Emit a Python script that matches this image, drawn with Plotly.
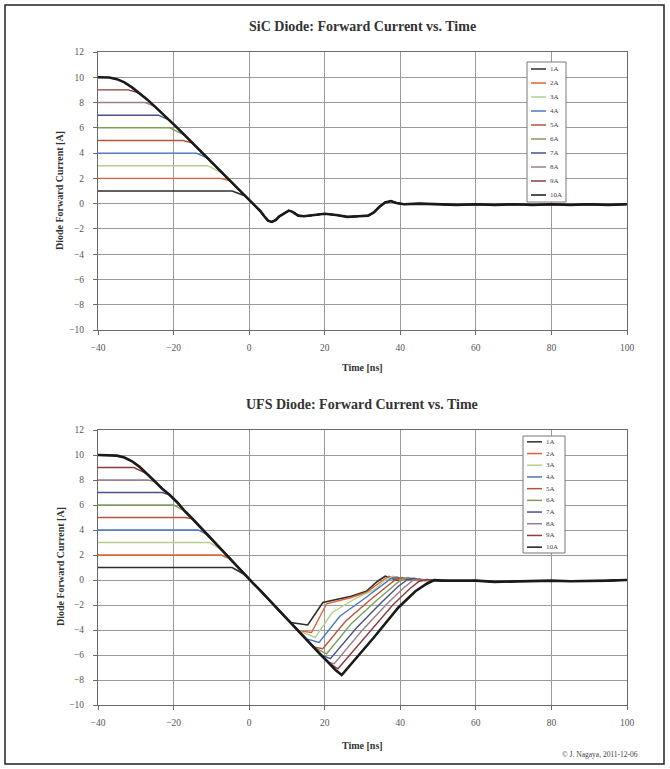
import plotly.graph_objects as go

# ---------------- data ----------------
series_names = ["1A", "2A", "3A", "4A", "5A", "6A", "7A", "8A", "9A", "10A"]
levels = [1, 2, 3, 4, 5, 6, 7, 8, 9, 10]
colors = ["#2e2e2e", "#e0622e", "#b3cf8f", "#4a76c0", "#b8543a",
          "#7f9e5a", "#48508e", "#9a7f86", "#8e3b3b", "#1a1a1a"]
widths = [1.6, 1.4, 1.4, 1.4, 1.4, 1.4, 1.4, 1.4, 1.4, 2.6]

x_ticks = [-40, -20, 0, 20, 40, 60, 80, 100]
y_ticks = [-10, -8, -6, -4, -2, 0, 2, 4, 6, 8, 10, 12]

# SiC diode: shared switching envelope (ns, A)
sic_env_t = [-40, -37, -35, -33, -31, -29, -27, -25, -23, -21, -19, -17, -15, -13, -11, -9, -7, -5, -3, -1,
             1, 3, 4, 5, 6, 7, 8, 9.5, 10.5, 11.5, 13, 14.5, 17, 20, 23, 26, 29, 31.5, 33, 34.5, 36, 37.5,
             39, 41, 45, 50, 55, 60, 65, 70, 75, 80, 85, 90, 95, 100]
sic_env_i = [10.0, 9.98, 9.85, 9.6, 9.2, 8.75, 8.25, 7.7, 7.15, 6.6, 6.0, 5.4, 4.8, 4.2, 3.6, 3.0, 2.4, 1.8, 1.2, 0.6,
             0.0, -0.6, -1.0, -1.35, -1.45, -1.3, -1.0, -0.75, -0.55, -0.65, -0.95, -1.0, -0.9, -0.8, -0.9, -1.05, -1.0, -0.95, -0.7, -0.25, 0.1, 0.2,
             0.05, -0.05, 0.0, -0.05, -0.1, -0.05, -0.1, -0.05, -0.1, -0.05, -0.1, -0.05, -0.1, -0.05]
sic_knee_t = [-4.5, -7.5, -11, -14, -17.5, -21, -24, -27.5, -32, -40]

# UFS diode: shared falling envelope
ufs_env_t = [-40, -37, -35, -33, -31, -29, -27, -25, -23, -21, -19, -17, -15, -13, -11, -9, -7, -5, -3, -1,
             1, 3, 5, 7, 9, 11, 13, 15, 17, 19, 21, 23, 25]
ufs_env_i = [10.0, 9.98, 9.95, 9.8, 9.5, 9.05, 8.5, 7.9, 7.3, 6.8, 6.2, 5.5, 4.9, 4.25, 3.6, 3.0, 2.35, 1.7, 1.05, 0.4,
             -0.25, -0.85, -1.5, -2.15, -2.8, -3.4, -4.05, -4.7, -5.35, -6.0, -6.6, -7.25, -7.9]
ufs_knee_t = [-4.5, -7.5, -10.5, -13.5, -17, -20, -23, -27, -30.5, -40]
ufs_peak_t = [15.5, 16.5, 17.5, 18.5, 19.5, 20.5, 21.5, 22.5, 23.5, 24.5]
ufs_peak_i = [-3.6, -4.2, -4.6, -5.0, -5.5, -5.9, -6.3, -6.7, -7.1, -7.6]
ufs_rec_t = [
    [19.5, 27, 31, 34, 36, 39],
    [20.5, 27, 31, 35, 37, 40],
    [22, 28, 33, 36, 38, 41],
    [24, 30, 34, 37.5, 39, 42],
    [25.5, 32, 36, 39, 40.5, 43],
    [27, 33.5, 38, 40.5, 42, 44.5],
    [28.5, 35, 39.5, 42, 43.5, 46],
    [30, 36.5, 41, 43.5, 45, 47.5],
    [31.5, 38, 42.5, 45, 47, 49],
    [33, 39.5, 44, 47, 49, 51],
]
ufs_rec_i = [
    [-1.8, -1.3, -0.9, -0.1, 0.3, 0.0],
    [-1.9, -1.4, -1.0, -0.1, 0.3, 0.0],
    [-2.6, -1.5, -0.8, 0.0, 0.3, 0.0],
    [-2.9, -1.6, -0.7, 0.1, 0.25, 0.0],
    [-3.3, -1.6, -0.6, 0.1, 0.2, 0.0],
    [-3.5, -1.7, -0.5, 0.1, 0.2, 0.0],
    [-3.8, -1.8, -0.5, 0.05, 0.15, 0.0],
    [-4.0, -1.9, -0.6, 0.0, 0.1, -0.05],
    [-4.3, -2.0, -0.7, -0.1, 0.05, -0.05],
    [-4.6, -2.2, -0.9, -0.3, 0.0, -0.05],
]
ufs_tail_t = [52, 55, 60, 65, 70, 75, 80, 85, 90, 95, 100]
ufs_tail_i = [-0.05, -0.1, -0.05, -0.15, -0.1, -0.1, -0.05, -0.1, -0.1, -0.05, 0.0]

# ---------------- figure ----------------
W, H = 670, 769
L, R, T, B = 98, 627, 52, 705          # overall plotting box (pixels)
TOP_Y0, TOP_Y1 = 52, 330
BOT_Y0, BOT_Y1 = 430, 705


def px(x):
    return (x - L) / (R - L)


def py(y):
    return (B - y) / (B - T)


FONT = "Liberation Serif, Times New Roman, serif"
fig = go.Figure()

for k in range(10):
    lv = levels[k]
    t = [-40, sic_knee_t[k]]
    i = [lv, lv]
    for tt, ii in zip(sic_env_t, sic_env_i):
        if tt > sic_knee_t[k] and ii < lv:
            t.append(tt)
            i.append(ii)
    fig.add_trace(go.Scatter(x=t, y=i, mode="lines", name=series_names[k],
                             line=dict(color=colors[k], width=widths[k]),
                             xaxis="x", yaxis="y", showlegend=False))

for k in range(10):
    lv = levels[k]
    t = [-40, ufs_knee_t[k]]
    i = [lv, lv]
    for tt, ii in zip(ufs_env_t, ufs_env_i):
        if tt > ufs_knee_t[k] and ii < lv and tt < ufs_peak_t[k] and ii > ufs_peak_i[k]:
            t.append(tt)
            i.append(ii)
    t.append(ufs_peak_t[k])
    i.append(ufs_peak_i[k])
    t += ufs_rec_t[k]
    i += ufs_rec_i[k]
    for tt, ii in zip(ufs_tail_t, ufs_tail_i):
        if tt > ufs_rec_t[k][-1]:
            t.append(tt)
            i.append(ii)
    fig.add_trace(go.Scatter(x=t, y=i, mode="lines", name=series_names[k],
                             line=dict(color=colors[k], width=widths[k]),
                             xaxis="x2", yaxis="y2", showlegend=False))

axis_common = dict(showgrid=True, gridcolor="#9a9a9a", gridwidth=1, zeroline=False,
                   showline=True, linecolor="#6a6a6a", linewidth=1, mirror=True,
                   ticks="outside", ticklen=4, tickcolor="#6a6a6a",
                   tickfont=dict(family=FONT, size=9.5, color="#555555"))

fig.update_layout(
    width=W, height=H, paper_bgcolor="white", plot_bgcolor="white",
    margin=dict(l=L, r=W - R, t=T, b=H - B, pad=0),
    showlegend=False,
    xaxis=dict(domain=[0, 1], anchor="y", range=[-40, 100], tickvals=x_ticks,
               ticklabelstandoff=5, **axis_common),
    yaxis=dict(domain=[py(TOP_Y1), 1], anchor="x", range=[-10, 12], tickvals=y_ticks,
               ticklabelstandoff=7, **axis_common),
    xaxis2=dict(domain=[0, 1], anchor="y2", range=[-40, 100], tickvals=x_ticks,
                ticklabelstandoff=5, **axis_common),
    yaxis2=dict(domain=[0, py(BOT_Y0)], anchor="x2", range=[-10, 12], tickvals=y_ticks,
                ticklabelstandoff=7, **axis_common),
)

ann = []
shapes = []


def text(x, y, s, size, bold=False, angle=0, color="#333333", xanchor="center"):
    ann.append(dict(x=px(x), y=py(y), xref="paper", yref="paper", text=(f"<b>{s}</b>" if bold else s),
                    showarrow=False, textangle=angle, xanchor=xanchor, yanchor="middle",
                    font=dict(family=FONT, size=size, color=color)))


text(362, 27, "SiC Diode: Forward Current vs. Time", 14, bold=True)
text(362, 404, "UFS Diode: Forward Current vs. Time", 14, bold=True)
text(362, 367, "Time [ns]", 10, bold=True)
text(362, 745, "Time [ns]", 10, bold=True)
text(60, 191, "Diode Forward Current [A]", 10, bold=True, angle=-90)
text(60, 567, "Diode Forward Current [A]", 10, bold=True, angle=-90)
text(640, 754, "© J. Nagaya, 2011-12-06", 7.5, color="#444444", xanchor="right")

# outer frame
shapes.append(dict(type="rect", xref="paper", yref="paper", x0=px(5), x1=px(664), y0=py(764), y1=py(5),
                   line=dict(color="#222222", width=1.5), fillcolor="rgba(0,0,0,0)", layer="above"))

# legends (drawn boxes)
for (bx0, bx1, by0, by1, step) in [(527, 566, 62, 202, 14.0), (523, 565, 436, 553, 11.7)]:
    shapes.append(dict(type="rect", xref="paper", yref="paper", x0=px(bx0), x1=px(bx1), y0=py(by1), y1=py(by0),
                       line=dict(color="#777777", width=1), fillcolor="white", layer="above"))
    for k in range(10):
        yc = by0 + step / 2 + step * k
        shapes.append(dict(type="line", xref="paper", yref="paper", x0=px(bx0 + 4), x1=px(bx0 + 19),
                           y0=py(yc), y1=py(yc), line=dict(color=colors[k], width=1.5), layer="above"))
        text(bx0 + 21, yc, series_names[k], 7, color="#444444", xanchor="left")

fig.update_layout(annotations=ann, shapes=shapes)
fig.write_html("out.html", config={"displayModeBar": False},
               post_script="document.body.style.margin='0px';document.body.style.overflow='hidden';")
